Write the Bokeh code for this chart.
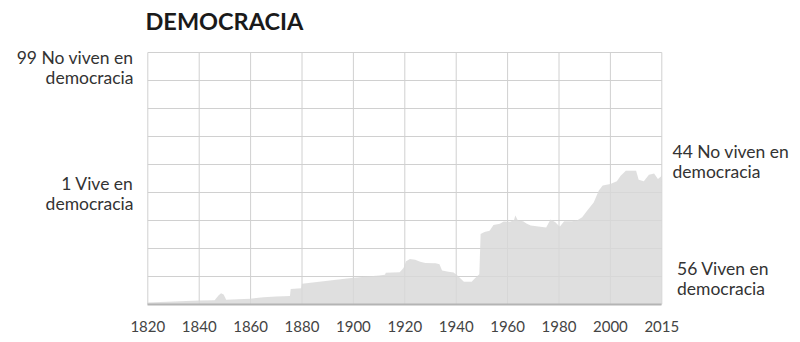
from bokeh.plotting import figure
from bokeh.models import Range1d, FixedTicker, ColumnDataSource
from bokeh.core.properties import value
from bokeh.embed import file_html
from bokeh.resources import INLINE

# Share of world population living in democracy (%)
years = [1820, 1830, 1840, 1846, 1847.5, 1848.5, 1849.5, 1850.5, 1855, 1860, 1865, 1870,
         1875.3, 1875.6, 1879.7, 1880, 1890, 1900, 1910, 1912.3, 1912.6, 1918, 1919.5,
         1920.5, 1922, 1924, 1926, 1928, 1932, 1933.5, 1934.5, 1937, 1939, 1940.5, 1942,
         1943, 1946, 1947.5, 1949, 1949.5, 1951, 1953, 1954.5, 1957, 1958.5, 1961, 1962.5,
         1963, 1964, 1966, 1967.5, 1969, 1972, 1975, 1976.7, 1978.6, 1980.3, 1982, 1985,
         1987, 1989, 1991, 1993.5, 1995.5, 1997, 2000, 2002.5, 2004, 2006, 2010, 2011,
         2013, 2015, 2017, 2018.5, 2020]
democracy = [0.8, 1.2, 1.6, 1.7, 3.6, 4.5, 4.0, 1.9, 2.1, 2.3, 2.9, 3.2,
             3.4, 6.2, 6.4, 8.2, 9.4, 10.6, 11.5, 11.8, 12.6, 12.8, 14.5,
             17.2, 18.1, 17.8, 17.0, 16.5, 16.4, 16.0, 13.5, 13.0, 12.7, 11.5, 10.0,
             9.0, 9.0, 10.6, 12.0, 28.0, 28.8, 29.3, 31.5, 32.0, 32.9, 32.8, 33.5,
             35.3, 33.3, 33.0, 32.0, 31.3, 31.0, 30.6, 33.7, 32.6, 30.9, 33.0, 33.0,
             33.3, 34.6, 37.3, 40.5, 45.2, 47.2, 47.8, 48.9, 51.1, 53.1, 53.1, 49.5,
             48.9, 51.5, 52.0, 49.8, 51.1]
x_ticks = [1820, 1840, 1860, 1880, 1900, 1920, 1940, 1960, 1980, 2000, 2020]
x_tick_labels = ["1820", "1840", "1860", "1880", "1900", "1920", "1940", "1960", "1980", "2000", "2015"]
y_grid = [i * 100 / 9 for i in range(10)]

title_text = "DEMOCRACIA"
left_top = ["99 No viven en", "democracia"]
left_mid = ["1 Vive en", "democracia"]
right_top = ["44 No viven en", "democracia"]
right_bottom = ["56 Viven en", "democracia"]

FONT = "Lato"
TXT = "#333333"
GRID = "#d0d0d0"

# ---- layout: the frame covers the canvas above the axis; the chart box
# (1820-2020 x 0-100) sits inside it
W, FRAME_H, AXIS_H = 800, 304, 38
PX0, PX1 = 147.3, 661.3          # pixel positions of 1820 and 2020
PY0, PY100 = 304.0, 52.0         # pixel positions of 0 and 100
kx = (PX1 - PX0) / (x_ticks[-1] - x_ticks[0])
ky = (PY0 - PY100) / 100.0
x_start = x_ticks[0] - PX0 / kx
x_end = x_start + W / kx
y_end = PY0 / ky

def X(px):
    return x_start + px / kx

def Y(py):
    return (PY0 - py) / ky

p = figure(width=W, height=FRAME_H + AXIS_H, output_backend="svg", toolbar_location=None,
           title=None, x_range=Range1d(x_start, x_end), y_range=Range1d(0, y_end),
           y_axis_location=None, min_border=0, min_border_left=0, min_border_right=0,
           min_border_top=0, min_border_bottom=AXIS_H)
p.background_fill_color = "white"
p.border_fill_color = "white"
p.outline_line_color = None
p.xgrid.visible = False
p.ygrid.visible = False

# grid box drawn from the tick arrays
x_lo, x_hi = x_ticks[0], x_ticks[-1]
y_lo, y_hi = y_grid[0], y_grid[-1]
p.segment(x0=x_ticks, y0=[y_lo] * len(x_ticks), x1=x_ticks, y1=[y_hi] * len(x_ticks),
          line_color=GRID, line_width=1)
p.segment(x0=[x_lo] * len(y_grid), y0=y_grid, x1=[x_hi] * len(y_grid), y1=y_grid,
          line_color=GRID, line_width=1)

src = ColumnDataSource(dict(x=years, y=democracy))
p.varea(x="x", y1=0, y2="y", source=src, fill_color="#d8d8d8", fill_alpha=0.82)

ax = p.xaxis[0]
ax.ticker = FixedTicker(ticks=x_ticks)
ax.bounds = (x_lo, x_hi)
ax.major_label_overrides = {t: l for t, l in zip(x_ticks, x_tick_labels)}
ax.major_tick_line_color = None
ax.minor_tick_line_color = None
ax.axis_line_color = "#b4b4b4"
ax.axis_line_width = 2
ax.major_label_standoff = 10
ax.major_label_text_font = FONT
ax.major_label_text_font_size = "15px"
ax.major_label_text_color = "#444444"

def texts(items, px, pys, align, size="17.5px", style="normal", color=TXT):
    p.text(x=[X(px)] * len(items), y=[Y(py) for py in pys], text=items,
           text_font=value(FONT), text_font_size=value(size), text_font_style=style,
           text_color=color, text_align=align, text_baseline="middle")

texts([title_text], 145, [20], "left", size="23.5px", style="bold", color="#1a1a1a")
texts(left_top, 133, [57, 77], "right")
texts(left_mid, 133, [183, 203], "right")
texts(right_top, 672, [151, 171], "left")
texts(right_bottom, 676.5, [268, 288], "left")

open("out.html", "w").write(file_html(p, INLINE))
